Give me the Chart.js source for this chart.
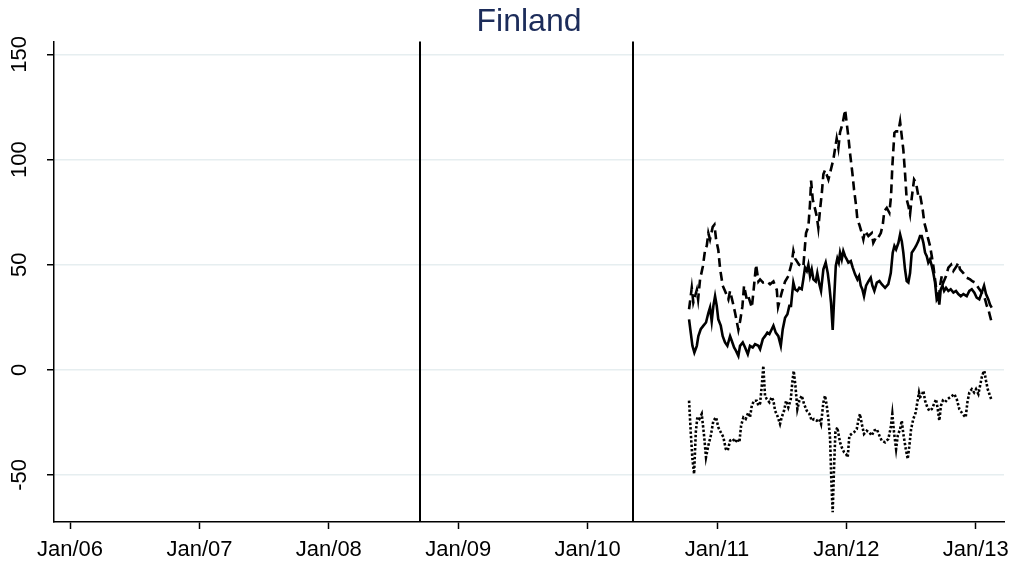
<!DOCTYPE html>
<html>
<head>
<meta charset="utf-8">
<script src="https://cdn.jsdelivr.net/npm/chart.js@4.4.0/dist/chart.umd.min.js"></script>
<style>
  html, body { margin: 0; padding: 0; background: #fff; }
  canvas { display: block; }
</style>
</head>
<body>
<canvas id="grafico" width="1022" height="570"></canvas>
<script>
// dates as decimal years
var datesA = [2010.784, 2010.805, 2010.817, 2010.844, 2010.854, 2010.869, 2010.890, 2010.908, 2010.921, 2010.933,
    2010.946, 2010.967, 2010.980, 2010.993, 2011.010, 2011.024, 2011.044, 2011.062, 2011.088, 2011.101,
    2011.122, 2011.140, 2011.165, 2011.178, 2011.196, 2011.209, 2011.230, 2011.242, 2011.269, 2011.281,
    2011.302, 2011.320, 2011.333, 2011.356, 2011.385, 2011.410, 2011.436, 2011.462, 2011.472, 2011.500,
    2011.526, 2011.551, 2011.578, 2011.590, 2011.603, 2011.634, 2011.667, 2011.688, 2011.706, 2011.719,
    2011.727, 2011.740, 2011.752, 2011.771, 2011.783, 2011.796, 2011.810, 2011.822, 2011.835, 2011.861,
    2011.879, 2011.899, 2011.912, 2011.925, 2011.938, 2011.951, 2011.972, 2011.990, 2012.003, 2012.015,
    2012.028, 2012.046, 2012.059, 2012.075, 2012.085, 2012.100, 2012.119, 2012.131, 2012.144, 2012.170,
    2012.196, 2012.208, 2012.235, 2012.247, 2012.266, 2012.281, 2012.293, 2012.312, 2012.332, 2012.345,
    2012.355, 2012.371, 2012.384, 2012.402, 2012.415, 2012.428, 2012.440, 2012.453, 2012.466, 2012.479,
    2012.492, 2012.505, 2012.523, 2012.538, 2012.556, 2012.569, 2012.590, 2012.602, 2012.616, 2012.633,
    2012.646, 2012.660, 2012.672, 2012.685, 2012.698, 2012.711, 2012.724, 2012.737, 2012.749, 2012.770,
    2012.788, 2012.809, 2012.827, 2012.853, 2012.865, 2012.878, 2012.904, 2012.930, 2012.956, 2012.976,
    2012.994, 2013.020, 2013.046, 2013.072, 2013.085, 2013.097, 2013.110, 2013.123];
var valuesA = [28.8, 39, 32, 38, 33.5, 43, 49, 57, 59, 65,
    62, 68, 69, 62, 57, 48, 40, 37.5, 33.5, 37.5,
    32, 27, 19, 23, 30, 40, 33.5, 35, 29.6, 36.7,
    50, 42, 43, 41.5, 42, 40.7, 42, 38, 30, 36.7,
    42, 44.6, 51, 56.5, 53, 50, 49, 65, 68, 79,
    90, 81, 78, 73, 67.5, 76, 84, 93, 95, 90.5,
    95, 100, 105, 110, 105.5, 113, 117.4, 123.7, 117, 111,
    103, 93.7, 85.8, 78, 71.5, 69, 65, 62, 66, 63.6,
    65, 60.4, 63.6, 63, 65, 69, 75.5, 77, 74.7, 82.6,
    96.8, 112.7, 113.4, 113.4, 118, 111, 104.7, 93.7, 81, 78,
    74, 81.8, 90.5, 89, 82.6, 83.4, 76, 70, 66.8, 62,
    59, 54, 49.4, 43, 36.7, 32, 40, 44.6, 41.5, 44.6,
    48.6, 50, 47, 49.4, 51, 47.8, 46, 43.8, 43, 42,
    41.5, 39, 36.7, 33.5, 30.4, 28.8, 25.6, 22.5];

var datesB = [2010.784, 2010.797, 2010.810, 2010.825, 2010.844, 2010.856, 2010.874, 2010.895, 2010.915, 2010.933,
    2010.946, 2010.959, 2010.972, 2010.985, 2010.998, 2011.010, 2011.029, 2011.044, 2011.062, 2011.080,
    2011.101, 2011.114, 2011.132, 2011.147, 2011.165, 2011.178, 2011.199, 2011.217, 2011.238, 2011.255,
    2011.276, 2011.294, 2011.320, 2011.333, 2011.354, 2011.371, 2011.389, 2011.405, 2011.423, 2011.436,
    2011.454, 2011.474, 2011.493, 2011.508, 2011.526, 2011.544, 2011.559, 2011.572, 2011.582, 2011.590,
    2011.603, 2011.621, 2011.636, 2011.655, 2011.667, 2011.680, 2011.694, 2011.706, 2011.719, 2011.732,
    2011.745, 2011.763, 2011.775, 2011.791, 2011.804, 2011.822, 2011.840, 2011.856, 2011.868, 2011.881,
    2011.894, 2011.905, 2011.918, 2011.930, 2011.941, 2011.951, 2011.964, 2011.976, 2011.990, 2012.003,
    2012.015, 2012.034, 2012.049, 2012.067, 2012.085, 2012.098, 2012.111, 2012.123, 2012.136, 2012.152,
    2012.170, 2012.188, 2012.201, 2012.216, 2012.235, 2012.255, 2012.273, 2012.299, 2012.324, 2012.343,
    2012.358, 2012.371, 2012.384, 2012.402, 2012.415, 2012.428, 2012.440, 2012.453, 2012.466, 2012.479,
    2012.492, 2012.505, 2012.523, 2012.538, 2012.556, 2012.569, 2012.582, 2012.595, 2012.608, 2012.621,
    2012.633, 2012.646, 2012.660, 2012.672, 2012.685, 2012.698, 2012.711, 2012.718, 2012.729, 2012.742,
    2012.755, 2012.770, 2012.788, 2012.806, 2012.827, 2012.847, 2012.865, 2012.884, 2012.904, 2012.930,
    2012.950, 2012.969, 2012.989, 2013.007, 2013.027, 2013.046, 2013.064, 2013.079, 2013.097, 2013.110,
    2013.123];
var valuesB = [24, 17.7, 11.4, 8.2, 11.4, 16, 19.3, 21, 22.5, 27,
    29.6, 23, 30.4, 35, 30.4, 24, 21, 16, 13, 11.4,
    16, 13.8, 10.6, 9, 6.6, 11.4, 13, 10.6, 7.4, 11.4,
    10.6, 12.2, 11.4, 9.8, 14.6, 16, 17.7, 17, 19.3, 21,
    17.7, 16, 11.4, 19.3, 24.8, 26.4, 30.4, 30.4, 36.7, 41.5,
    38.3, 37.5, 39, 38.3, 43, 48.6, 47, 50, 44.6, 47.8,
    43, 42, 46, 40.7, 37.5, 47.8, 51, 46, 40, 32,
    19, 33.5, 49.4, 53, 51, 55.7, 52.5, 56.5, 54, 52.5,
    51, 51.7, 48.6, 45.4, 43, 44.6, 40, 38.3, 35, 40,
    42, 43.8, 40, 37.5, 41.5, 42.2, 40.7, 39, 40.7, 46,
    55.7, 58.9, 57.3, 60.4, 64.4, 61.2, 55.7, 47.8, 42.2, 41.5,
    46, 55.7, 57.3, 58.9, 61.2, 63.6, 63.6, 60.4, 55.7, 54,
    51, 52.5, 49.4, 46, 41.5, 33.5, 35, 31, 38.3, 40,
    37.5, 39, 37.5, 38.3, 36.7, 37.5, 36, 35, 36, 35,
    37.5, 38.3, 36.7, 34.3, 33.5, 36.7, 40, 36, 33.5, 31,
    29.6];

var datesC = [2010.784, 2010.797, 2010.810, 2010.823, 2010.836, 2010.848, 2010.864, 2010.882, 2010.900, 2010.915,
    2010.933, 2010.952, 2010.972, 2010.993, 2011.010, 2011.029, 2011.049, 2011.068, 2011.083, 2011.101,
    2011.122, 2011.140, 2011.157, 2011.173, 2011.186, 2011.204, 2011.222, 2011.242, 2011.255, 2011.269,
    2011.286, 2011.307, 2011.320, 2011.333, 2011.346, 2011.358, 2011.371, 2011.385, 2011.405, 2011.423,
    2011.436, 2011.449, 2011.466, 2011.487, 2011.500, 2011.518, 2011.534, 2011.551, 2011.570, 2011.582,
    2011.593, 2011.606, 2011.621, 2011.636, 2011.655, 2011.673, 2011.694, 2011.714, 2011.732, 2011.750,
    2011.771, 2011.791, 2011.804, 2011.822, 2011.835, 2011.848, 2011.861, 2011.874, 2011.884, 2011.894,
    2011.905, 2011.915, 2011.930, 2011.941, 2011.951, 2011.964, 2011.982, 2011.997, 2012.010, 2012.023,
    2012.041, 2012.059, 2012.080, 2012.092, 2012.105, 2012.119, 2012.136, 2012.157, 2012.177, 2012.196,
    2012.214, 2012.235, 2012.255, 2012.273, 2012.299, 2012.324, 2012.343, 2012.355, 2012.368, 2012.384,
    2012.397, 2012.415, 2012.428, 2012.440, 2012.459, 2012.474, 2012.487, 2012.500, 2012.517, 2012.536,
    2012.548, 2012.561, 2012.569, 2012.582, 2012.595, 2012.608, 2012.626, 2012.641, 2012.660, 2012.677,
    2012.693, 2012.706, 2012.718, 2012.731, 2012.745, 2012.762, 2012.780, 2012.801, 2012.819, 2012.834,
    2012.853, 2012.873, 2012.891, 2012.909, 2012.922, 2012.935, 2012.950, 2012.969, 2012.987, 2013.002,
    2013.020, 2013.033, 2013.046, 2013.058, 2013.066, 2013.079, 2013.092, 2013.105, 2013.123];
var valuesC = [-14.7, -29.7, -42.4, -49.5, -29.7, -22.6, -23.4, -21, -31.3, -41.6,
    -36, -31.3, -24.2, -22.6, -27.4, -29.7, -32, -37.7, -38.4, -33.7,
    -32.9, -34.5, -32.9, -34.5, -26.6, -22.6, -23.4, -20.3, -22.6, -17,
    -14.7, -14.7, -17, -16, -7.6, 1.9, -12.3, -14, -15.5, -13,
    -14.7, -19.5, -21.8, -25.8, -22.6, -19.5, -14.7, -17.9, -14, -6,
    -0.5, -7.6, -18.7, -14.7, -12.3, -16.3, -19.5, -21, -24.2, -23.4,
    -24.2, -23.4, -25.8, -15.5, -12.3, -17, -23.4, -32.9, -53.5, -67.7,
    -45.6, -29.7, -27.4, -31.3, -34.5, -36.9, -39.2, -40, -41.6, -31.3,
    -30.5, -29.7, -28.2, -24.2, -21, -25.8, -30.5, -29, -29.7, -31.3,
    -29, -28.2, -31.3, -33.7, -34.5, -32.9, -27.4, -21, -29.7, -37.7,
    -31.3, -28.2, -24.2, -30.5, -37.7, -42.4, -36, -28.2, -23.4, -20.3,
    -15.5, -10.8, -13, -12.3, -10, -14.7, -17.9, -19.5, -18.7, -16.3,
    -14, -18.7, -24.2, -17, -14.7, -15.5, -14, -13.1, -12.3, -11.5,
    -14, -18.7, -20.3, -21.8, -22.6, -15.5, -10.8, -9.2, -10.8, -9.2,
    -11.5, -7.6, -3.6, -1.3, -0.5, -5.2, -9.2, -11.5, -14.7];

// event lines (Sep 2008, May 2010)
var eventDates = [2008.707, 2010.353];

var tickYears = [2006, 2007, 2008, 2009, 2010, 2011, 2012, 2013];
var tickLabels = ['Jan/06', 'Jan/07', 'Jan/08', 'Jan/09', 'Jan/10', 'Jan/11', 'Jan/12', 'Jan/13'];
var yTicks = [-50, 0, 50, 100, 150];

var fonte = 'Arial, "Liberation Sans", sans-serif';

function pontos(datas, valores) {
    return datas.map((d, i) => ({ x: d, y: valores[i] }));
}

var linhasEvento = {
    id: 'linhasEvento',
    beforeDatasetsDraw: function (chart) {
        var ctx = chart.ctx;
        var area = chart.chartArea;
        var x = chart.scales.x;
        ctx.save();
        ctx.strokeStyle = '#000';
        ctx.lineWidth = 2;
        eventDates.forEach(d => {
            var px = Math.round(x.getPixelForValue(d));
            ctx.beginPath();
            ctx.moveTo(px, area.top);
            ctx.lineTo(px, area.bottom);
            ctx.stroke();
        });
        ctx.restore();
    }
};

var rotulosY = {
    id: 'rotulosY',
    afterDraw: function (chart) {
        var ctx = chart.ctx;
        var y = chart.scales.y;
        ctx.save();
        ctx.fillStyle = '#000';
        ctx.font = '22px ' + fonte;
        ctx.textAlign = 'center';
        ctx.textBaseline = 'middle';
        yTicks.forEach(v => {
            ctx.save();
            ctx.translate(20, y.getPixelForValue(v));
            ctx.rotate(-Math.PI / 2);
            ctx.fillText(String(v), 0, 0);
            ctx.restore();
        });
        ctx.restore();
    }
};

var ctx = document.getElementById('grafico');

new Chart(ctx, {
    type: 'line',
    data: {
        datasets: [{
            label: 'A',
            data: pontos(datesA, valuesA),
            borderColor: '#000',
            borderWidth: 2.6,
            borderDash: [9, 5],
            pointRadius: 0,
            tension: 0
        }, {
            label: 'B',
            data: pontos(datesB, valuesB),
            borderColor: '#000',
            borderWidth: 2.6,
            pointRadius: 0,
            tension: 0
        }, {
            label: 'C',
            data: pontos(datesC, valuesC),
            borderColor: '#000',
            borderWidth: 2.6,
            borderDash: [2.4, 2],
            pointRadius: 0,
            tension: 0
        }]
    },
    options: {
        responsive: false,
        animation: false,
        layout: {
            padding: { left: 0, right: 18, top: 0, bottom: 0 }
        },
        plugins: {
            legend: { display: false },
            tooltip: { enabled: false },
            title: {
                display: true,
                text: 'Finland',
                fullSize: false,
                color: '#1c2c5a',
                font: { family: fonte, size: 32, weight: 'normal' },
                padding: { top: 3, bottom: 0 }
            }
        },
        scales: {
            x: {
                type: 'linear',
                min: 2005.876,
                max: 2013.218,
                afterBuildTicks: function (scale) {
                    scale.ticks = tickYears.map(v => ({ value: v }));
                },
                afterFit: function (scale) {
                    scale.height = 48;
                },
                ticks: {
                    autoSkip: false,
                    maxRotation: 0,
                    padding: 8,
                    color: '#000',
                    font: { family: fonte, size: 22 },
                    callback: function (v) {
                        return tickLabels[tickYears.indexOf(v)];
                    }
                },
                grid: {
                    drawOnChartArea: false,
                    tickLength: 7,
                    tickColor: '#000',
                    tickWidth: 1.5
                },
                border: { color: '#000', width: 1.5 }
            },
            y: {
                type: 'linear',
                min: -72.4,
                max: 156.2,
                afterBuildTicks: function (scale) {
                    scale.ticks = yTicks.map(v => ({ value: v }));
                },
                afterFit: function (scale) {
                    scale.width = 54;
                },
                ticks: { display: false },
                grid: {
                    color: '#e6eef0',
                    lineWidth: 1.5,
                    tickLength: 7,
                    tickColor: '#000',
                    tickWidth: 1.5
                },
                border: { color: '#000', width: 1.5 }
            }
        }
    },
    plugins: [linhasEvento, rotulosY]
});
</script>
</body>
</html>
